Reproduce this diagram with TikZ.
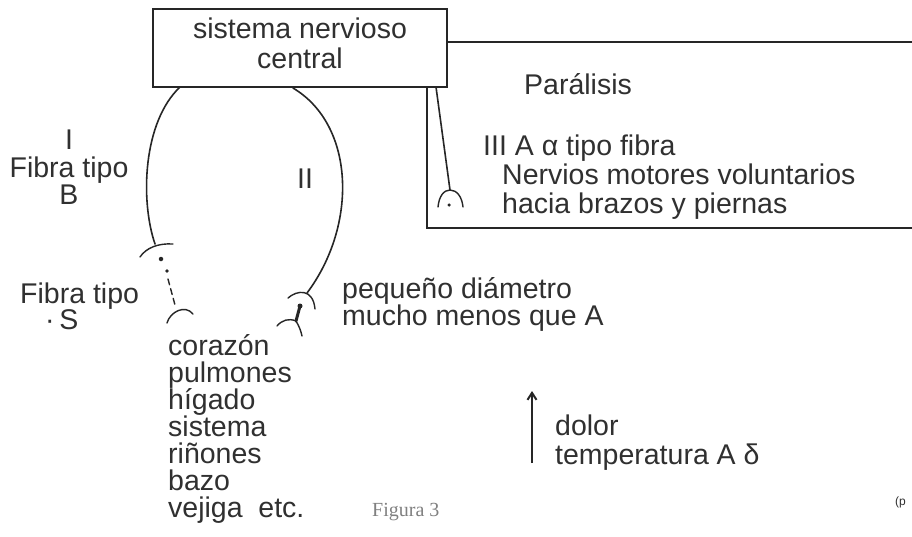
\documentclass[tikz,border=0pt]{standalone}
\usepackage{fontspec}
\setmainfont{Liberation Sans}
\newfontfamily\capfont{Liberation Serif}
\usetikzlibrary{arrows.meta}
\definecolor{ink}{HTML}{262626}
\definecolor{txt}{HTML}{303030}
\begin{document}
\begin{tikzpicture}[x=1pt,y=-1pt,
  fiber/.style={draw=ink, line width=1.6pt, line cap=round},
  thin/.style={draw=ink, line width=1.4pt, line cap=round},
  lbl/.style={text=txt, font=\fontsize{28.5}{30}\selectfont, inner sep=0pt, anchor=base west},
  clbl/.style={lbl, anchor=base},
  spot/.style={fill=ink, draw=none, circle, inner sep=0pt, minimum size=4.5pt},
]
\useasboundingbox[fill=white] (0,0) rectangle (912,536);

% central box
\node[draw=ink, line width=1.6pt, minimum width=294pt, minimum height=78pt, inner sep=0pt] (cns) at (300,48) {};
\node[clbl] (cnst1) at (300,38) {sistema nervioso};
\node[clbl] (cnst2) at (300,68) {central};

% motor frame
\coordinate (frA) at (447,42);
\coordinate (frB) at (912,42);
\coordinate (frC) at (427,87);
\coordinate (frD) at (427,228);
\coordinate (frE) at (912,228);
\draw[fiber] (frA) -- (frB);
\draw[fiber] (frC) -- (frD) -- (frE);

% motor fibre III
\coordinate (m0) at (436,87);
\coordinate (m1) at (450,190);
\coordinate (mL) at (438,207);
\coordinate (mR) at (463,207);
\draw[fiber] (m0) -- (m1);
\draw[thin] (mL) .. controls (439,196) and (444,190) .. (m1) .. controls (457,190) and (462,197) .. (mR);
\node[spot, minimum size=3.5pt] (mdot) at (449,205) {};

% fibre I
\coordinate (a0) at (180,87);
\coordinate (a1) at (155,244);
\draw[fiber] (a0) .. controls (143,122) and (140,200) .. (a1);
\coordinate (aL) at (140,257);
\coordinate (aR) at (173,244);
\draw[thin] (aL) .. controls (146,248) and (158,243) .. (aR);
\node[spot] (ad1) at (161,259) {};
\node[spot, minimum size=3.8pt] (ad2) at (167,271) {};
\coordinate (as0) at (168,279);
\coordinate (as1) at (175,305);
\draw[thin, dash pattern=on 6pt off 4pt] (as0) -- (as1);
\coordinate (bL) at (167,323);
\coordinate (bR) at (193,314);
\draw[thin] (bL) .. controls (170,312) and (185,304) .. (bR);

% fibre II
\coordinate (c0) at (293,88);
\coordinate (c1) at (307,293);
\draw[fiber] (c0) .. controls (355,125) and (358,225) .. (c1);
\coordinate (cL) at (288,298);
\coordinate (cR) at (315,309);
\draw[thin] (cL) .. controls (297,290) and (313,288) .. (cR);
\node[spot, minimum size=5pt] (rdot) at (300,306) {};
\coordinate (r1) at (296,321);
\coordinate (rL) at (277,326);
\coordinate (rR) at (302,336);
\draw[ink, line width=3pt, line cap=round] (rdot.center) -- (r1);
\draw[thin] (r1) .. controls (289,318) and (282,320) .. (rL);
\draw[thin] (r1) .. controls (299,326) and (301,331) .. (rR);

% labels
\node[clbl] (tI1) at (69,149) {I};
\node[clbl] (tI2) at (69,177) {Fibra tipo};
\node[clbl] (tI3) at (69,204) {B};
\node[clbl] (tII) at (305,188) {II};
\node[lbl] (tS) at (20,303) {Fibra tipo};
\node[lbl] (tS2) at (45,329) {\textperiodcentered\,S};
\node[lbl] (o1) at (168,355) {corazón};
\node[lbl] (o2) at (168,382) {pulmones};
\node[lbl] (o3) at (168,409) {hígado};
\node[lbl] (o4) at (168,436) {sistema};
\node[lbl] (o5) at (168,463) {riñones};
\node[lbl] (o6) at (168,490) {bazo};
\node[lbl] (o7) at (168,517) {vejiga\ \ etc.};
\node[lbl] (peq1) at (342,298) {pequeño diámetro};
\node[lbl] (peq2) at (342,325) {mucho menos que A};
\node[lbl] (par) at (524,94) {Parálisis};
\node[lbl] (III) at (483,155) {III A α tipo fibra};
\node[lbl] (nerv1) at (502,184) {Nervios motores voluntarios};
\node[lbl] (nerv2) at (502,213) {hacia brazos y piernas};
\node[lbl] (dolor1) at (555,435) {dolor};
\node[lbl] (dolor2) at (555,464) {temperatura A δ};
\coordinate (ar0) at (532,463);
\coordinate (ar1) at (532,391);
\draw[ink, line width=2pt, -{Straight Barb[length=7pt,width=9pt]}] (ar0) -- (ar1);
\node[anchor=base west, inner sep=0pt, text=gray, font=\capfont\fontsize{20}{22}\selectfont] (fig) at (372,516) {Figura 3};
\node[anchor=base west, inner sep=0pt, text=txt, font=\fontsize{12}{14}\selectfont] (pp) at (895,505) {(p};
\end{tikzpicture}
\end{document}
